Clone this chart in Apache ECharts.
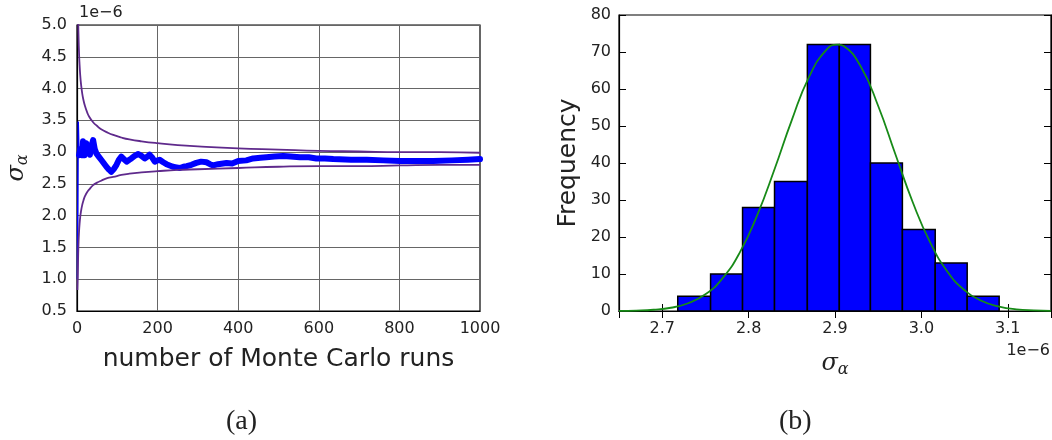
<!DOCTYPE html>
<html>
<head>
<meta charset="utf-8">
<script src="https://cdn.jsdelivr.net/npm/echarts@6/dist/echarts.min.js"></script>
<style>
  html, body { margin: 0; padding: 0; background: #fff; }
  #main { width: 1052px; height: 440px; }
</style>
</head>
<body>
<div id="main"></div>
<script>
// (a) running estimate of sigma_alpha (units of 1e-6) against number of runs
var runs = [1, 3, 5, 8, 12, 15, 19, 23, 28, 32, 36, 40, 44, 48, 54, 60, 67, 73, 80, 85,
  92, 98, 104, 110, 116, 123, 130, 135, 143, 152, 160, 168, 175, 180, 187, 193, 200, 205,
  214, 222, 230, 238, 247, 255, 264, 272, 284, 296, 308, 321, 330, 338, 350, 371, 385,
  400, 420, 437, 455, 470, 490, 512, 530, 553, 575, 594, 615, 636, 680, 719, 760, 801,
  840, 884, 930, 970, 1000];
var sigmaRun = [1.0, 3.48, 2.95, 3.05, 2.95, 3.17, 2.95, 3.14, 3.0, 2.96, 3.1, 3.19, 3.05,
  2.98, 2.93, 2.88, 2.82, 2.77, 2.72, 2.69, 2.74, 2.8, 2.88, 2.93, 2.89, 2.85, 2.88, 2.9,
  2.94, 2.97, 2.94, 2.9, 2.93, 2.96, 2.91, 2.85, 2.87, 2.88, 2.84, 2.81, 2.79, 2.77, 2.76,
  2.75, 2.77, 2.78, 2.8, 2.83, 2.85, 2.84, 2.81, 2.79, 2.81, 2.83, 2.82, 2.86, 2.87, 2.9,
  2.91, 2.92, 2.93, 2.94, 2.93, 2.92, 2.92, 2.9, 2.9, 2.89, 2.88, 2.88, 2.87, 2.86, 2.86,
  2.86, 2.87, 2.88, 2.89];

// confidence envelope
var envRuns = [1, 2, 3, 4, 5, 6, 8, 10, 13, 16, 20, 25, 30, 40, 50, 60, 75, 90, 110, 130,
  160, 200, 250, 300, 400, 500, 600, 700, 800, 900, 1000];
var envUpper = [6.6, 5.55, 5.06, 4.77, 4.57, 4.42, 4.21, 4.07, 3.92, 3.82, 3.72, 3.63, 3.56,
  3.47, 3.41, 3.36, 3.31, 3.27, 3.23, 3.2, 3.17, 3.14, 3.11, 3.09, 3.06, 3.04, 3.02, 3.01,
  3.0, 3.0, 2.99];
var envLower = [0.83, 1.08, 1.41, 1.61, 1.74, 1.84, 1.98, 2.07, 2.17, 2.24, 2.31, 2.37, 2.41,
  2.48, 2.52, 2.55, 2.59, 2.61, 2.64, 2.66, 2.68, 2.7, 2.72, 2.73, 2.75, 2.77, 2.78, 2.78,
  2.79, 2.8, 2.8];

// (b) histogram of sigma_alpha (units of 1e-6)
var binEdges = [2.718, 2.756, 2.793, 2.830, 2.868, 2.905, 2.941, 2.978, 3.016, 3.053, 3.090];
var binCounts = [4, 10, 28, 35, 72, 72, 40, 22, 13, 4];

// fitted normal curve
var fitX = [2.65, 2.67, 2.69, 2.71, 2.73, 2.75, 2.77, 2.79, 2.81, 2.83, 2.85, 2.87, 2.89,
  2.903, 2.91, 2.93, 2.95, 2.97, 2.99, 3.01, 3.03, 3.05, 3.07, 3.09, 3.11, 3.13, 3.15];
var fitY = [0.04, 0.12, 0.34, 0.88, 2.1, 4.5, 8.9, 15.9, 25.9, 38.3, 51.6, 63.3, 70.6,
  72, 71.6, 66.0, 55.4, 42.3, 29.4, 18.6, 10.7, 5.6, 2.7, 1.2, 0.45, 0.16, 0.05];

function pairs(xs, ys) {
  return xs.map(function (x, i) { return [x, ys[i]]; });
}
function one(v) { return v.toFixed(1); }
function plain(v) { return String(v); }

var tickLabel = { fontFamily: 'DejaVu Sans', fontSize: 16, color: '#222' };
var frame = { show: true, lineStyle: { color: '#000', width: 1.2 } };
var sigmaRich = {
  s: { fontFamily: 'DejaVu Serif', fontStyle: 'italic', fontSize: 24, color: '#222' },
  sub: { fontFamily: 'DejaVu Serif', fontStyle: 'italic', fontSize: 16, color: '#222', padding: [12, 0, 0, 0] }
};

var myChart = echarts.init(document.getElementById('main'), null, { renderer: 'canvas' });

myChart.setOption({
  animation: false,
  backgroundColor: '#fff',
  grid: [
    { left: 77, top: 25, width: 403, height: 286, show: true, borderColor: '#000', borderWidth: 1.2, outerBoundsMode: 'none' },
    { left: 619, top: 15, width: 432, height: 296, show: true, borderColor: '#000', borderWidth: 1.2, outerBoundsMode: 'none' }
  ],
  xAxis: [
    {
      type: 'value', gridIndex: 0, min: 0, max: 1000, interval: 200,
      axisLine: frame, axisTick: { show: false },
      axisLabel: Object.assign({ margin: 10, formatter: plain }, tickLabel),
      splitLine: { show: true, lineStyle: { color: '#666', width: 1 } },
      name: 'number of Monte Carlo runs', nameLocation: 'middle', nameGap: 36,
      nameTextStyle: { fontFamily: 'DejaVu Sans', fontSize: 25, color: '#222' }
    },
    {
      type: 'value', gridIndex: 1, min: 2.65, max: 3.15, splitNumber: 5,
      axisLine: frame, axisTick: { show: true, inside: true, length: 7, lineStyle: { color: '#000' } },
      axisLabel: Object.assign({ margin: 10, showMinLabel: false, showMaxLabel: false, formatter: one }, tickLabel),
      splitLine: { show: false },
      name: '{s|σ}{sub|α}', nameLocation: 'middle', nameGap: 39,
      nameTextStyle: { rich: sigmaRich }
    },
    {
      type: 'value', gridIndex: 1, position: 'top', min: 2.65, max: 3.15, splitNumber: 5,
      axisLine: frame, axisTick: { show: true, inside: true, length: 7, lineStyle: { color: '#000' } },
      axisLabel: { show: false }, splitLine: { show: false }
    }
  ],
  yAxis: [
    {
      type: 'value', gridIndex: 0, min: 0.5, max: 5.0, interval: 0.5,
      axisLine: frame, axisTick: { show: false },
      axisLabel: Object.assign({ margin: 10, formatter: one }, tickLabel),
      splitLine: { show: true, lineStyle: { color: '#666', width: 1 } },
      name: '{s|σ}{sub|α}', nameLocation: 'middle', nameGap: 46, nameRotate: 90,
      nameTextStyle: { rich: sigmaRich }
    },
    {
      type: 'value', gridIndex: 1, min: 0, max: 80, interval: 10,
      axisLine: frame, axisTick: { show: true, inside: true, length: 7, lineStyle: { color: '#000' } },
      axisLabel: Object.assign({ margin: 8 }, tickLabel),
      splitLine: { show: false },
      name: 'Frequency', nameLocation: 'middle', nameGap: 38, nameRotate: 90,
      nameTextStyle: { fontFamily: 'DejaVu Sans', fontSize: 25, color: '#222' }
    },
    {
      type: 'value', gridIndex: 1, position: 'right', min: 0, max: 80, interval: 10,
      axisLine: frame, axisTick: { show: true, inside: true, length: 7, lineStyle: { color: '#000' } },
      axisLabel: { show: false }, splitLine: { show: false }
    }
  ],
  series: [
    {
      type: 'line', xAxisIndex: 0, yAxisIndex: 0, showSymbol: false,
      data: pairs(runs, sigmaRun).slice(0, 3),
      lineStyle: { color: '#0000ff', width: 1.5 }, z: 3
    },
    {
      type: 'line', xAxisIndex: 0, yAxisIndex: 0, showSymbol: false,
      data: pairs(runs, sigmaRun).slice(2),
      lineStyle: { color: '#0000ff', width: 6, cap: 'round', join: 'round' }, z: 3
    },
    {
      type: 'line', xAxisIndex: 0, yAxisIndex: 0, showSymbol: false, smooth: true,
      data: pairs(envRuns, envUpper),
      lineStyle: { color: '#5f2a8c', width: 1.8 }, z: 4
    },
    {
      type: 'line', xAxisIndex: 0, yAxisIndex: 0, showSymbol: false, smooth: true,
      data: pairs(envRuns, envLower),
      lineStyle: { color: '#5f2a8c', width: 1.8 }, z: 4
    },
    {
      type: 'custom', xAxisIndex: 1, yAxisIndex: 1,
      data: binCounts.map(function (c, i) { return [binEdges[i], binEdges[i + 1], c]; }),
      encode: { x: [0, 1], y: 2 },
      renderItem: function (params, api) {
        var p0 = api.coord([api.value(0), api.value(2)]);
        var p1 = api.coord([api.value(1), 0]);
        return {
          type: 'rect',
          shape: { x: p0[0], y: p0[1], width: p1[0] - p0[0], height: p1[1] - p0[1] },
          style: { fill: '#0000ff', stroke: '#000', lineWidth: 1.5 }
        };
      },
      z: 2
    },
    {
      type: 'line', xAxisIndex: 1, yAxisIndex: 1, showSymbol: false, smooth: true,
      data: pairs(fitX, fitY),
      lineStyle: { color: '#178a17', width: 1.8 }, z: 4
    }
  ],
  graphic: [
    { type: 'text', left: 79, top: 5, style: { text: '1e\u22126', font: '16px "DejaVu Sans"', fill: '#222' } },
    { type: 'text', right: 2, top: 343, style: { text: '1e\u22126', font: '16px "DejaVu Sans"', fill: '#222' } },
    { type: 'text', left: 226, top: 408, style: { text: '(a)', font: '28px "Liberation Serif"', fill: '#222' } },
    { type: 'text', left: 779, top: 408, style: { text: '(b)', font: '28px "Liberation Serif"', fill: '#222' } }
  ]
});
</script>
</body>
</html>
